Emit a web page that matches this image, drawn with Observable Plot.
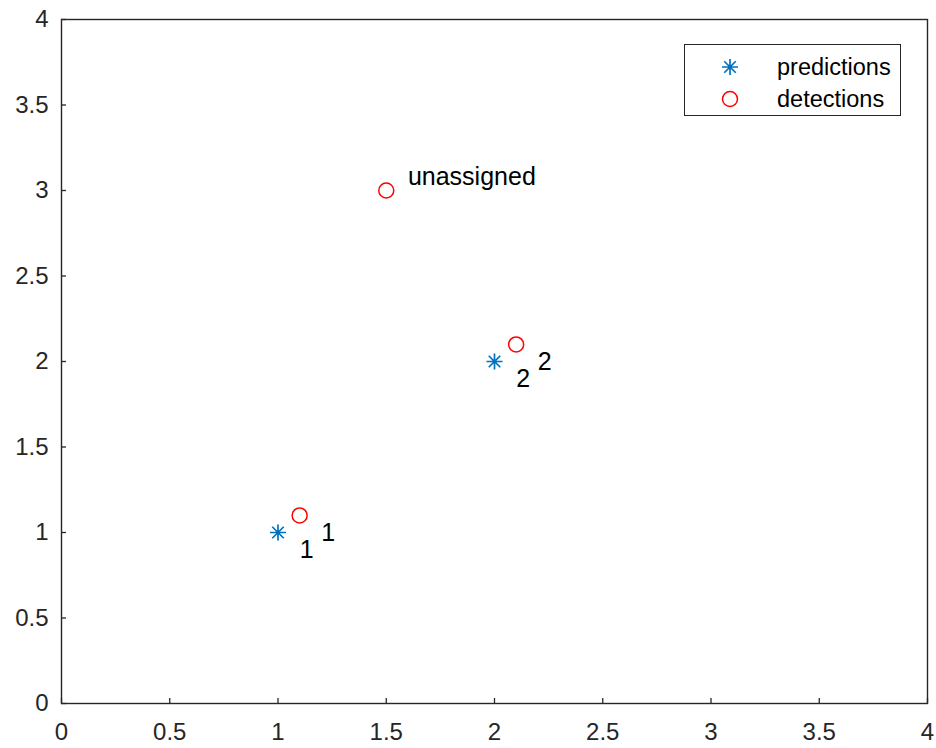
<!DOCTYPE html>
<html>
<head>
<meta charset="utf-8">
<script src="https://cdn.jsdelivr.net/npm/d3@7"></script>
<script src="https://cdn.jsdelivr.net/npm/@observablehq/plot@0.6"></script>
<style>
  body { margin: 0; background: #fff; font-family: "Liberation Sans", Arial, sans-serif; }
  #wrap { position: relative; width: 936px; height: 748px; }
  #legend { position: absolute; left: 684px; top: 44px; width: 217px; height: 72px; box-sizing: border-box;
    border: 1.3px solid #262626; background: #fff; }
</style>
</head>
<body>
<div id="wrap"></div>
<script>
// ---- data ----
const predX = [1, 2];
const predY = [1, 2];
const predLabels = ["1", "2"];
const predLabelX = [1.1, 2.1];
const predLabelY = [0.9, 1.9];

const detX = [1.1, 2.1, 1.5];
const detY = [1.1, 2.1, 3];
const detLabels = ["1", "2", "unassigned"];
const detLabelX = [1.2, 2.2, 1.6];
const detLabelY = [1.0, 2.0, 3.08];

const xTicks = [0, 0.5, 1, 1.5, 2, 2.5, 3, 3.5, 4];
const yTicks = [0, 0.5, 1, 1.5, 2, 2.5, 3, 3.5, 4];
const seriesNames = ["predictions", "detections"];

// ---- build tables ----
const preds = predX.map((x, i) => ({x, y: predY[i], label: predLabels[i], lx: predLabelX[i], ly: predLabelY[i]}));
const dets = detX.map((x, i) => ({x, y: detY[i], label: detLabels[i], lx: detLabelX[i], ly: detLabelY[i]}));

const blue = "#0072BD", red = "#FF0000", axisColor = "#262626";
const font = "'Liberation Sans', Arial, sans-serif";

// MATLAB-style 8-arm asterisk
const asterisk = {
  draw(context, size) {
    const r = Math.sqrt(size / Math.PI);
    const d = r * 0.72;
    context.moveTo(-r, 0); context.lineTo(r, 0);
    context.moveTo(0, -r); context.lineTo(0, r);
    context.moveTo(-d, -d); context.lineTo(d, d);
    context.moveTo(-d, d); context.lineTo(d, -d);
  }
};

const W = 936, H = 748;
const mL = 61, mR = 9, mT = 19, mB = 45;
const innerW = W - mL - mR, innerH = H - mT - mB;
const tickLen = 5;
const fmt = d => String(d);

const chart = Plot.plot({
  width: W, height: H,
  marginLeft: mL, marginRight: mR, marginTop: mT, marginBottom: mB,
  style: {fontFamily: font, background: "#fff"},
  x: {domain: [0, 4]},
  y: {domain: [0, 4]},
  marks: [
    Plot.axisX({ticks: xTicks, tickSize: 0, tickPadding: 19, tickFormat: fmt, label: null,
      fontSize: 24, fill: axisColor}),
    Plot.axisY({ticks: yTicks, tickSize: 0, tickPadding: 13, tickFormat: fmt, label: null,
      fontSize: 24, fill: axisColor}),
    Plot.tickX(xTicks, {x: d => d, insetTop: innerH - tickLen, stroke: axisColor, strokeWidth: 1.3}),
    Plot.tickY(yTicks, {y: d => d, insetRight: innerW - tickLen, stroke: axisColor, strokeWidth: 1.3}),
    Plot.frame({stroke: axisColor, strokeWidth: 1.4}),
    Plot.dot(preds, {x: "x", y: "y", symbol: asterisk, r: 8, stroke: blue, strokeWidth: 1.7, fill: "none"}),
    Plot.dot(dets, {x: "x", y: "y", symbol: "circle", r: 7.5, stroke: red, strokeWidth: 1.5, fill: "none"}),
    Plot.text(preds, {x: "lx", y: "ly", text: "label", textAnchor: "start", lineAnchor: "middle",
      fontSize: 25, fill: "#000"}),
    Plot.text(dets, {x: "lx", y: "ly", text: "label", textAnchor: "start", lineAnchor: "middle",
      fontSize: 25, fill: "#000"})
  ]
});

const wrap = document.getElementById("wrap");
wrap.appendChild(chart);

// legend overlay
const leg = document.createElement("div");
leg.id = "legend";
wrap.appendChild(leg);
const lsvg = d3.select(leg).append("svg").attr("width", 215).attr("height", 70)
  .style("position", "absolute").style("left", "0").style("top", "0");
const rows = [
  {name: seriesNames[0], sym: asterisk, color: blue, sw: 1.7, size: Math.PI * 64},
  {name: seriesNames[1], sym: d3.symbolCircle, color: red, sw: 1.5, size: Math.PI * 56}
];
rows.forEach((r, i) => {
  const g = lsvg.append("g").attr("transform", `translate(45,${22 + i * 32})`);
  g.append("path").attr("d", d3.symbol(r.sym, r.size)())
    .attr("fill", "none").attr("stroke", r.color).attr("stroke-width", r.sw);
  g.append("text").attr("x", 47).attr("y", 0).attr("dy", "0.35em")
    .attr("font-size", 23.5).attr("fill", "#000")
    .attr("font-family", font).text(r.name);
});
</script>
</body>
</html>
